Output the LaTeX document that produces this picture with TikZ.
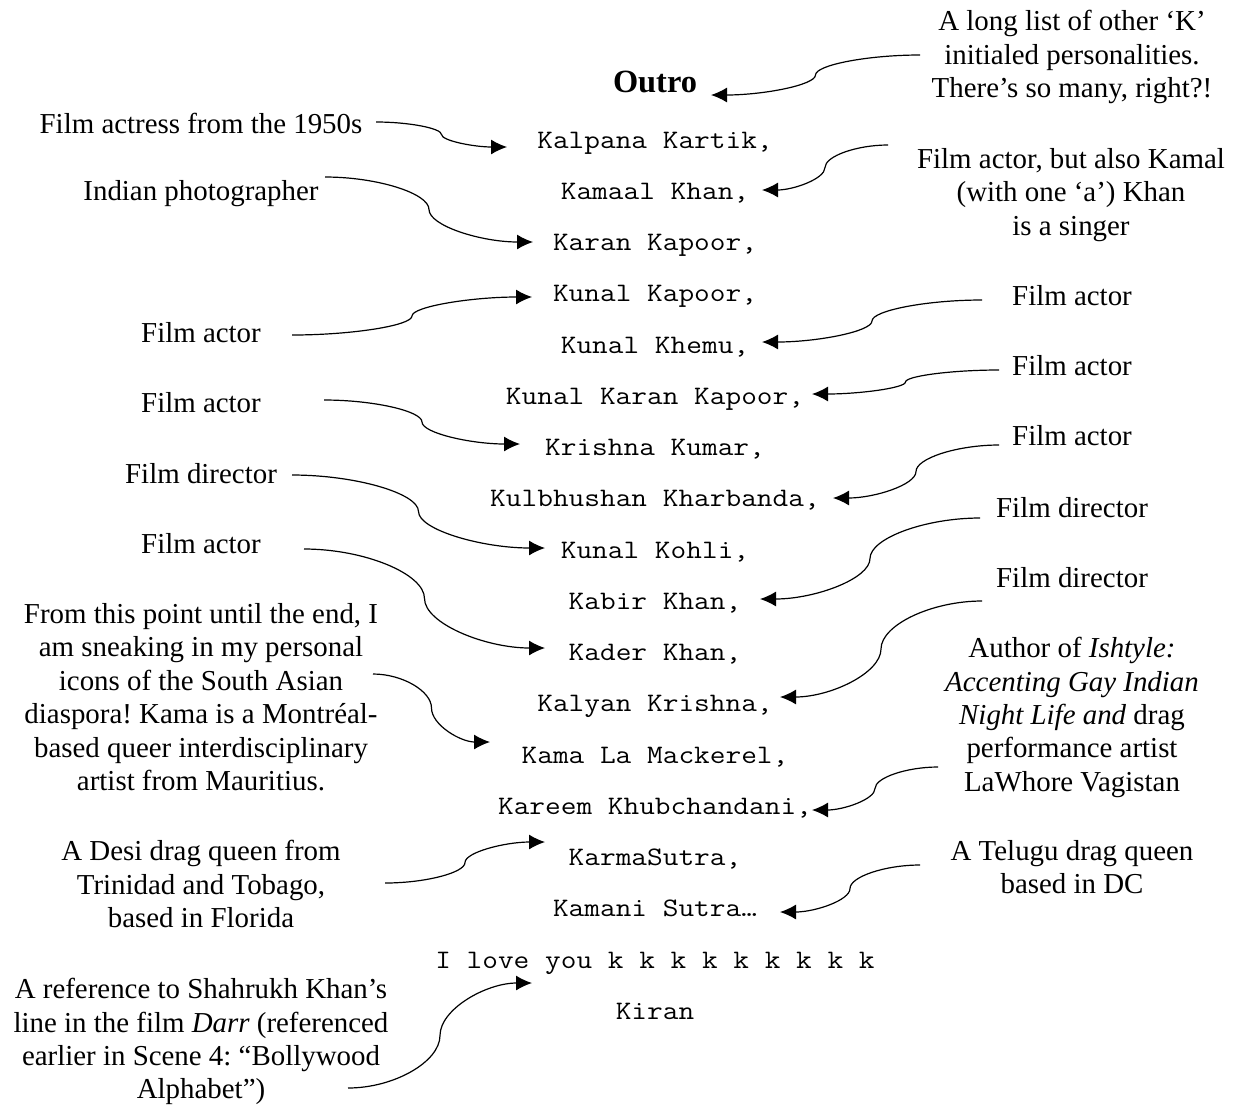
\documentclass[tikz,border=0pt]{standalone}
\usepackage{fontspec}
\setmainfont{Liberation Serif}
\setmonofont[FakeStretch=1.143]{Latin Modern Mono}
\usetikzlibrary{arrows.meta,calc}
\frenchspacing
\begin{document}
\begin{tikzpicture}[x=0.5pt,y=-0.5pt,
  lab/.style={font=\fontsize{14.45}{16.7}\selectfont, inner sep=0pt, align=center},
  lab1/.style={lab, anchor=base},
  labm/.style={lab, anchor=north},
  nm/.style={font=\ttfamily\fontsize{13.33}{15}\selectfont, inner sep=0pt, anchor=base},
  arr/.style={line width=0.6pt, -{Latex[length=8pt,width=7.5pt]}},
  sc/.style={to path={let \p1=(\tikztostart), \p2=(\tikztotarget), \p3=($(\p1)!0.5!(\p2)$) in
     .. controls ($(\p1)!0.5!(\x3,\y1)$) and ($(\x3,\y1)!0.5!(\p3)$) .. (\p3)
     .. controls ($(\p3)!0.5!(\x3,\y2)$) and ($(\x3,\y2)!0.5!(\p2)$) .. (\p2)}}
]
\useasboundingbox (0,0) rectangle (1241,1104);

% title
\node[font=\bfseries\fontsize{16.2}{18}\selectfont, inner sep=0pt, anchor=base] (outro) at (655,92.5) {Outro};

% names
\node[nm] (n1)  at (655,148) {Kalpana Kartik,};
\node[nm] (n2)  at (655,199.3) {Kamaal Khan,};
\node[nm] (n3)  at (655,250.5) {Karan Kapoor,};
\node[nm] (n4)  at (655,301.8) {Kunal Kapoor,};
\node[nm] (n5)  at (655,353) {Kunal Khemu,};
\node[nm] (n6)  at (655,404.3) {Kunal Karan Kapoor,};
\node[nm] (n7)  at (655,455.5) {Krishna Kumar,};
\node[nm] (n8)  at (655,506.8) {Kulbhushan Kharbanda,};
\node[nm] (n9)  at (655,558) {Kunal Kohli,};
\node[nm] (n10) at (655,609.3) {Kabir Khan,};
\node[nm] (n11) at (655,660.5) {Kader Khan,};
\node[nm] (n12) at (655,711.8) {Kalyan Krishna,};
\node[nm] (n13) at (655,763) {Kama La Mackerel,};
\node[nm] (n14) at (655,814.3) {Kareem Khubchandani,};
\node[nm] (n15) at (655,865.5) {KarmaSutra,};
\node[nm] (n16) at (655,916.8) {Kamani Sutra…};
\node[nm] (n17) at (655,968) {I love you k k k k k k k k k};
\node[nm] (n18) at (655,1019.3) {Kiran};

% left labels
\node[lab1] (a1) at (201,133) {Film actress from the 1950s};
\node[lab1] (a2) at (201,200) {Indian photographer};
\node[lab1] (a3) at (201,342) {Film actor};
\node[lab1] (a4) at (201,412) {Film actor};
\node[lab1] (a5) at (201,483) {Film director};
\node[lab1] (a6) at (201,553) {Film actor};
\node[labm] (a7) at (201,603) {From this point until the end, I\\am sneaking in my personal\\icons of the South Asian\\diaspora! Kama is a Montréal-\\based queer interdisciplinary\\artist from Mauritius.};
\node[labm] (a8) at (201,840) {A Desi drag queen from\\Trinidad and Tobago,\\based in Florida};
\node[labm] (a9) at (201,978) {A reference to Shahrukh Khan’s\\line in the film \textit{Darr} (referenced\\earlier in Scene 4: “Bollywood\\Alphabet”)};

% right labels
\node[labm] (b1) at (1072,10) {A long list of other ‘K’\\initialed personalities.\\There’s so many, right?!};
\node[labm] (b2) at (1071,148) {Film actor, but also Kamal\\(with one ‘a’) Khan\\is a singer};
\node[lab1] (b3) at (1072,305) {Film actor};
\node[lab1] (b4) at (1072,375) {Film actor};
\node[lab1] (b5) at (1072,445) {Film actor};
\node[lab1] (b6) at (1072,517) {Film director};
\node[lab1] (b7) at (1072,587) {Film director};
\node[labm] (b8) at (1072,637) {Author of \textit{Ishtyle:}\\\textit{Accenting Gay Indian}\\\textit{Night Life and} drag\\performance artist\\LaWhore Vagistan};
\node[labm] (b9) at (1072,840) {A Telugu drag queen\\based in DC};

% connector end points
\coordinate (l1s) at (376,122);  \coordinate (l1t) at (507,147);
\coordinate (l2s) at (325,177);  \coordinate (l2t) at (533,242);
\coordinate (l3s) at (292,335);  \coordinate (l3t) at (532,297);
\coordinate (l4s) at (324,400);  \coordinate (l4t) at (520,444);
\coordinate (l5s) at (292,475);  \coordinate (l5t) at (545,548);
\coordinate (l6s) at (304,549);  \coordinate (l6t) at (545,648);
\coordinate (l7s) at (373,674);  \coordinate (l7t) at (490,742);
\coordinate (l8s) at (385,883);  \coordinate (l8t) at (545,842);
\coordinate (l9s) at (348,1088); \coordinate (l9t) at (532,983);
\coordinate (r1s) at (920,55);   \coordinate (r1t) at (711,95);
\coordinate (r2s) at (888,145);  \coordinate (r2t) at (762,190);
\coordinate (r3s) at (982,300);  \coordinate (r3t) at (762,342);
\coordinate (r4s) at (999,370);  \coordinate (r4t) at (812,394);
\coordinate (r5s) at (999,445);  \coordinate (r5t) at (833,498);
\coordinate (r6s) at (980,518);  \coordinate (r6t) at (760,599);
\coordinate (r7s) at (982,601);  \coordinate (r7t) at (780,697);
\coordinate (r8s) at (938,767);  \coordinate (r8t) at (812,810);
\coordinate (r9s) at (920,865);  \coordinate (r9t) at (780,912);

\foreach \c in {l1,l2,l3,l4,l5,l6,l7,l8,l9,r1,r2,r3,r4,r5,r6,r7,r8,r9}
  \draw[arr] (\c s) to[sc] (\c t);
\end{tikzpicture}
\end{document}
